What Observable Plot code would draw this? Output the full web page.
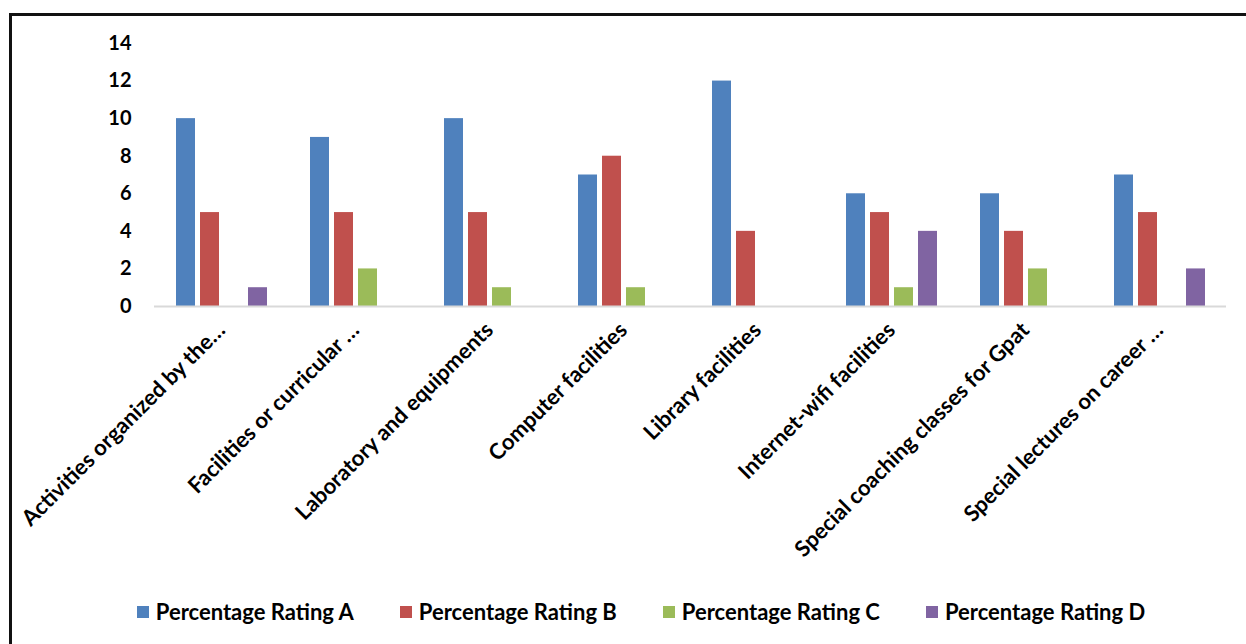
<!DOCTYPE html>
<html>
<head>
<meta charset="utf-8">
<script src="https://cdn.jsdelivr.net/npm/d3@7"></script>
<script src="https://cdn.jsdelivr.net/npm/@observablehq/plot@0.6"></script>
<style>
  html, body { margin: 0; padding: 0; background: #fff; }
  #wrap { position: relative; width: 1246px; height: 644px; overflow: hidden; font-family: "Lato", "Liberation Sans", sans-serif; }
  #frame { position: absolute; left: 9px; top: 13px; width: 1300px; height: 700px; border-left: 3px solid #111; border-top: 3px solid #111; box-sizing: border-box; }
  #chart { position: absolute; left: 0; top: 0; }
  #legend { position: absolute; left: 0; top: 598px; width: 1282px; display: flex; justify-content: center; gap: 46px; font-weight: bold; font-size: 22px; color: #000; }
  .item { display: flex; align-items: center; gap: 7px; }
  .sw { width: 12px; height: 12px; display: inline-block; }
</style>
</head>
<body>
<div id="wrap">
  <div id="frame"></div>
  <div id="chart"></div>
  <div id="legend"></div>
</div>
<script>
const categories = [
  "Activities organized by the…",
  "Facilities or curricular …",
  "Laboratory and equipments",
  "Computer facilities",
  "Library facilities",
  "Internet-wifi facilities",
  "Special coaching classes for Gpat",
  "Special lectures on career …"
];
const seriesNames = ["Percentage Rating A", "Percentage Rating B", "Percentage Rating C", "Percentage Rating D"];
const valuesA = [10, 9, 10, 7, 12, 6, 6, 7];
const valuesB = [5, 5, 5, 8, 4, 5, 4, 5];
const valuesC = [0, 2, 1, 1, 0, 1, 2, 0];
const valuesD = [1, 0, 0, 0, 0, 4, 0, 2];
const yTicks = [0, 2, 4, 6, 8, 10, 12, 14];
const seriesColors = ["#4f81bd", "#c0504d", "#9bbb59", "#8064a2"];

const seriesValues = [valuesA, valuesB, valuesC, valuesD];
const data = [];
categories.forEach((c, i) => {
  seriesNames.forEach((s, j) => {
    data.push({category: c, series: s, value: seriesValues[j][i]});
  });
});

const chart = Plot.plot({
  width: 1246,
  height: 600,
  marginLeft: 150,
  marginRight: 17,
  marginTop: 43,
  marginBottom: 294,
  style: {fontFamily: "Lato, 'Liberation Sans', sans-serif", fontSize: "22px", fontWeight: "bold", color: "#000", background: "transparent"},
  fx: {domain: categories, padding: 0},
  x: {domain: seriesNames, paddingInner: 0.22, paddingOuter: 0.865, axis: null},
  y: {domain: [0, 14]},
  color: {domain: seriesNames, range: seriesColors},
  marks: [
    Plot.axisY({ticks: yTicks, tickSize: 0, tickPadding: 23, label: null, fontSize: 20}),
    Plot.axisFx({anchor: "bottom", tickRotate: -45, tickSize: 0, tickPadding: 20, label: null, fontSize: 22}),
    Plot.barY(data.filter(d => d.value > 0), {fx: "category", x: "series", y: "value", fill: "series"}),
    Plot.ruleY([0], {stroke: "#d9d9d9", strokeWidth: 2})
  ]
});
document.getElementById("chart").appendChild(chart);

const legend = document.getElementById("legend");
seriesNames.forEach((s, j) => {
  const item = document.createElement("div");
  item.className = "item";
  const sw = document.createElement("span");
  sw.className = "sw";
  sw.style.background = seriesColors[j];
  const t = document.createElement("span");
  t.textContent = s;
  item.appendChild(sw);
  item.appendChild(t);
  legend.appendChild(item);
});
</script>
</body>
</html>
